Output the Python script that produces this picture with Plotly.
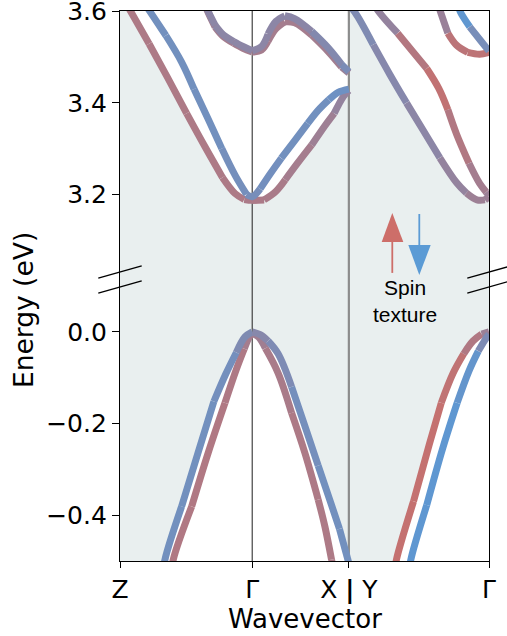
import plotly.graph_objects as go

# ---------------- data ----------------
K_TICKS = [0.0, 1.0, 1.731, 2.791]
K_LABELS = ["Z", "Γ", "X <b>|</b> Y", "Γ"]
Y_TOP_RANGE = [3.0, 3.6005]
Y_BOT_RANGE = [-0.5, 0.1]
Y_TOP_TICKS = [3.2, 3.4, 3.6]
Y_TOP_LABELS = ["3.2", "3.4", "3.6"]
Y_BOT_TICKS = [-0.4, -0.2, 0.0]
Y_BOT_LABELS = ["\u22120.4", "\u22120.2", "0.0"]

# spin texture value: +1 = spin up (red), -1 = spin down (blue)
# conduction bands (upper panel)
c1_k = [0.0, 0.08, 0.22, 0.36, 0.504, 0.643, 0.775, 0.87, 0.94, 1.0, 1.09, 1.18, 1.25, 1.34, 1.45, 1.55, 1.62, 1.69, 1.731]
c1_e = [3.640, 3.600, 3.529, 3.455, 3.377, 3.304, 3.237, 3.202, 3.189, 3.187, 3.188, 3.207, 3.232, 3.267, 3.308, 3.350, 3.377, 3.414, 3.427]
c1_s = [0.45, 0.45, 0.45, 0.45, 0.45, 0.45, 0.45, 0.45, 0.45, 0.4, 0.4, 0.4, 0.35, 0.3, 0.25, 0.2, 0.1, 0.0, -0.1]

c2_k = [0.10, 0.227, 0.347, 0.466, 0.56, 0.665, 0.77, 0.87, 0.957, 1.0, 1.06, 1.134, 1.22, 1.32, 1.42, 1.50, 1.58, 1.65, 1.731]
c2_e = [3.655, 3.599, 3.547, 3.489, 3.430, 3.366, 3.300, 3.242, 3.200, 3.195, 3.212, 3.244, 3.279, 3.317, 3.355, 3.384, 3.407, 3.423, 3.430]
c2_s = [-0.6, -0.6, -0.6, -0.6, -0.6, -0.6, -0.6, -0.55, -0.5, -0.5, -0.55, -0.6, -0.6, -0.6, -0.6, -0.6, -0.65, -0.7, -0.7]

c3a_k = [0.64, 0.667, 0.72, 0.78, 0.86, 0.93, 1.0, 1.07, 1.12, 1.18, 1.247, 1.32, 1.45, 1.575, 1.676, 1.731]
c3a_e = [3.615, 3.597, 3.565, 3.545, 3.530, 3.519, 3.511, 3.515, 3.535, 3.562, 3.577, 3.575, 3.548, 3.512, 3.478, 3.465]
c3a_s = [0.3, 0.3, 0.3, 0.3, 0.3, 0.3, 0.3, 0.3, 0.3, 0.3, 0.3, 0.3, 0.3, 0.25, 0.2, 0.1]

c3b_k = [0.64, 0.667, 0.72, 0.78, 0.86, 0.93, 1.0, 1.07, 1.12, 1.18, 1.247, 1.32, 1.45, 1.575, 1.676, 1.731]
c3b_e = [3.620, 3.600, 3.569, 3.549, 3.534, 3.523, 3.514, 3.523, 3.550, 3.578, 3.590, 3.584, 3.556, 3.520, 3.484, 3.468]
c3b_s = [-0.15, -0.15, -0.15, -0.15, -0.15, -0.15, -0.15, -0.15, -0.15, -0.15, -0.15, -0.15, -0.2, -0.3, -0.4, -0.5]

c4_k = [1.731, 1.776, 1.915, 2.041, 2.167, 2.293, 2.419, 2.545, 2.62, 2.70, 2.76, 2.791]
c4_e = [3.612, 3.598, 3.527, 3.462, 3.400, 3.340, 3.280, 3.226, 3.203, 3.188, 3.188, 3.195]
c4_s = [-0.4, -0.4, -0.3, -0.25, -0.2, -0.15, -0.1, 0.0, 0.1, 0.2, 0.2, 0.1]

c5_k = [1.90, 1.96, 2.10, 2.22, 2.32, 2.41, 2.48, 2.545, 2.64, 2.72, 2.77, 2.791]
c5_e = [3.625, 3.598, 3.552, 3.510, 3.475, 3.432, 3.385, 3.332, 3.268, 3.224, 3.205, 3.197]
c5_s = [-0.1, -0.1, 0.2, 0.6, 0.85, 0.85, 0.7, 0.5, 0.35, 0.3, 0.2, 0.1]

c6_k = [2.41, 2.425, 2.48, 2.545, 2.63, 2.72, 2.791]
c6_e = [3.612, 3.598, 3.552, 3.526, 3.510, 3.506, 3.510]
c6_s = [-0.1, 0.0, 0.4, 0.8, 0.9, 0.8, 0.5]

c7_k = [2.56, 2.575, 2.645, 2.73, 2.791]
c7_e = [3.612, 3.598, 3.566, 3.535, 3.513]
c7_s = [-1.0, -1.0, -0.8, -0.5, -0.2]

# valence bands (lower panel)
v1_k = [0.325, 0.34, 0.466, 0.592, 0.71, 0.80, 0.88, 0.945, 1.0, 1.06, 1.12, 1.196, 1.298, 1.398, 1.499, 1.60, 1.66, 1.731]
v1_e = [-0.53, -0.497, -0.381, -0.262, -0.152, -0.092, -0.045, -0.011, 0.0, -0.006, -0.020, -0.048, -0.120, -0.205, -0.292, -0.378, -0.430, -0.505]
v1_s = [-0.6, -0.6, -0.6, -0.6, -0.6, -0.6, -0.5, -0.4, -0.2, -0.2, -0.3, -0.4, -0.5, -0.55, -0.6, -0.6, -0.6, -0.6]

v2_k = [0.39, 0.403, 0.542, 0.667, 0.794, 0.88, 0.94, 0.975, 1.0, 1.05, 1.10, 1.196, 1.298, 1.398, 1.499, 1.55, 1.60, 1.62]
v2_e = [-0.53, -0.497, -0.381, -0.264, -0.155, -0.082, -0.037, -0.013, -0.003, -0.012, -0.036, -0.090, -0.177, -0.264, -0.366, -0.425, -0.497, -0.525]
v2_s = [0.5, 0.5, 0.5, 0.5, 0.5, 0.5, 0.4, 0.3, 0.2, 0.2, 0.3, 0.4, 0.45, 0.45, 0.45, 0.45, 0.45, 0.45]

v3_k = [2.08, 2.091, 2.22, 2.34, 2.43, 2.52, 2.60, 2.67, 2.735, 2.791]
v3_e = [-0.52, -0.497, -0.370, -0.245, -0.155, -0.090, -0.048, -0.020, -0.005, 0.0]
v3_s = [0.85, 0.85, 0.85, 0.85, 0.85, 0.8, 0.7, 0.5, 0.3, 0.0]

v4_k = [2.19, 2.20, 2.32, 2.44, 2.55, 2.64, 2.71, 2.76, 2.791]
v4_e = [-0.52, -0.497, -0.378, -0.255, -0.155, -0.085, -0.042, -0.018, -0.005]
v4_s = [-0.95, -0.95, -0.95, -0.95, -0.95, -0.9, -0.7, -0.4, -0.1]

# ---------------- style ----------------
RED = (204, 110, 104)
BLUE = (92, 152, 212)
SHADE = "#e9efef"
LW = 7
FONT = "DejaVu Sans"


def spin_color(s):
    t = (s + 1.0) / 2.0
    r, g, b = (round(BLUE[i] * (1 - t) + RED[i] * t) for i in range(3))
    return f"rgb({r},{g},{b})"


fig = go.Figure()

# ---- shaded gap region ----
for ks, es in [(c1_k, c1_e), (c4_k, c4_e)]:
    fig.add_trace(go.Scatter(x=ks, y=es, mode="lines", fill="tozeroy", fillcolor=SHADE,
                             line=dict(width=0, shape="spline"), xaxis="x2", yaxis="y2",
                             hoverinfo="skip", showlegend=False))

lo = Y_BOT_RANGE[0] - 0.1
hi = Y_BOT_RANGE[1] + 0.05
for ks, es, k0, k1 in [(v1_k, v1_e, K_TICKS[0], K_TICKS[2]), (v3_k, v3_e, K_TICKS[2], K_TICKS[3])]:
    fig.add_trace(go.Scatter(x=[k0, k0, k1, k1], y=[lo, hi, hi, lo], mode="lines",
                             line=dict(width=0), xaxis="x", yaxis="y",
                             hoverinfo="skip", showlegend=False))
    fig.add_trace(go.Scatter(x=ks, y=es, mode="lines", fill="tonexty", fillcolor=SHADE,
                             line=dict(width=0, shape="spline"), xaxis="x", yaxis="y",
                             hoverinfo="skip", showlegend=False))

# ---- high-symmetry vertical lines ----
for xa, ya, rng in [("x2", "y2", Y_TOP_RANGE), ("x", "y", Y_BOT_RANGE)]:
    fig.add_trace(go.Scatter(x=[K_TICKS[1], K_TICKS[1]], y=rng, mode="lines",
                             line=dict(color="#333333", width=1.1), xaxis=xa, yaxis=ya,
                             hoverinfo="skip", showlegend=False))
    fig.add_trace(go.Scatter(x=[K_TICKS[2], K_TICKS[2]], y=rng, mode="lines",
                             line=dict(color="#8c8c8c", width=2.2), xaxis=xa, yaxis=ya,
                             hoverinfo="skip", showlegend=False))


def add_band(ks, es, ss, xa, ya):
    n = len(ks)
    i = 0
    while i < n - 1:
        j = min(i + 2, n - 1)
        seg_s = sum(ss[i:j + 1]) / (j - i + 1)
        fig.add_trace(go.Scatter(x=ks[i:j + 1], y=es[i:j + 1], mode="lines",
                                 line=dict(color=spin_color(seg_s), width=LW, shape="spline"),
                                 xaxis=xa, yaxis=ya, hoverinfo="skip", showlegend=False))
        i = j


for ks, es, ss in [(c1_k, c1_e, c1_s), (c2_k, c2_e, c2_s), (c3a_k, c3a_e, c3a_s),
                   (c3b_k, c3b_e, c3b_s), (c4_k, c4_e, c4_s), (c5_k, c5_e, c5_s),
                   (c6_k, c6_e, c6_s), (c7_k, c7_e, c7_s)]:
    add_band(ks, es, ss, "x2", "y2")

for ks, es, ss in [(v2_k, v2_e, v2_s), (v1_k, v1_e, v1_s), (v3_k, v3_e, v3_s), (v4_k, v4_e, v4_s)]:
    add_band(ks, es, ss, "x", "y")

# ---------------- layout ----------------
axis_common = dict(showgrid=False, zeroline=False, showline=True, linecolor="black",
                   linewidth=1.2, automargin=False)
ytick_common = dict(tickmode="array", ticks="outside", ticklen=7, tickwidth=1.2, tickcolor="black",
                    tickfont=dict(size=25, family=FONT), mirror=True, ticklabeloverflow="allow")
fig.update_layout(
    width=507, height=636,
    margin=dict(l=120, r=18, t=11, b=75, autoexpand=False),
    paper_bgcolor="white", plot_bgcolor="white",
    font=dict(family=FONT, color="black"),
    showlegend=False, hovermode=False,
    xaxis=dict(domain=[0, 1], anchor="y", range=[K_TICKS[0], K_TICKS[-1]],
               tickmode="array", tickvals=K_TICKS, ticktext=K_LABELS,
               ticks="outside", ticklen=6, tickwidth=1.2, tickcolor="black",
               ticklabeloverflow="allow",
               tickfont=dict(size=25, family=FONT), **axis_common),
    xaxis2=dict(domain=[0, 1], anchor="y2", matches="x", side="top",
                showticklabels=False, ticks="", **axis_common),
    yaxis=dict(domain=[0, 0.5], anchor="x", range=Y_BOT_RANGE,
               tickvals=Y_BOT_TICKS, ticktext=Y_BOT_LABELS, **ytick_common, **axis_common),
    yaxis2=dict(domain=[0.5, 1], anchor="x2", range=Y_TOP_RANGE,
                tickvals=Y_TOP_TICKS, ticktext=Y_TOP_LABELS, **ytick_common, **axis_common),
)

annotations = [
    dict(text="Energy (eV)", x=-0.2596, y=0.4566, xref="paper", yref="paper",
         textangle=-90, showarrow=False, xanchor="center", yanchor="middle",
         font=dict(size=26.5, family=FONT)),
    dict(text="Wavevector", x=0.5, y=-0.106, xref="paper", yref="paper",
         showarrow=False, xanchor="center", yanchor="middle",
         font=dict(size=26, family=FONT)),
    dict(text="Spin<br>texture", x=0.773, y=0.472, xref="paper", yref="paper",
         showarrow=False, xanchor="center", yanchor="middle", align="center",
         font=dict(size=21, family="Liberation Sans")),
]
fig.update_layout(annotations=annotations)

ARROW_RED = "#cd6e69"
ARROW_BLUE = "#5b9bd5"
shapes = []
for xc in (0.0, 1.0):
    for y0, y1 in ((0.5142, 0.5365), (0.4869, 0.5093)):
        shapes.append(dict(type="line", xref="paper", yref="paper",
                           x0=xc - 0.0588, y0=y0, x1=xc + 0.0588, y1=y1,
                           line=dict(color="black", width=1.3)))
shapes += [
    dict(type="line", xref="paper", yref="paper", x0=0.7379, y0=0.5238, x1=0.7379, y1=0.585,
         line=dict(color=ARROW_RED, width=1.8)),
    dict(type="path", xref="paper", yref="paper",
         path="M 0.7092 0.5801 L 0.7379 0.6327 L 0.7678 0.5801 Z",
         fillcolor=ARROW_RED, line=dict(width=0)),
    dict(type="line", xref="paper", yref="paper", x0=0.8111, y0=0.6309, x1=0.8111, y1=0.570,
         line=dict(color=ARROW_BLUE, width=1.8)),
    dict(type="path", xref="paper", yref="paper",
         path="M 0.7813 0.5746 L 0.8111 0.5202 L 0.8420 0.5746 Z",
         fillcolor=ARROW_BLUE, line=dict(width=0)),
]
fig.update_layout(shapes=shapes)

fig.write_html("out.html", config={"displayModeBar": False},
               post_script="document.body.style.margin='0';")
